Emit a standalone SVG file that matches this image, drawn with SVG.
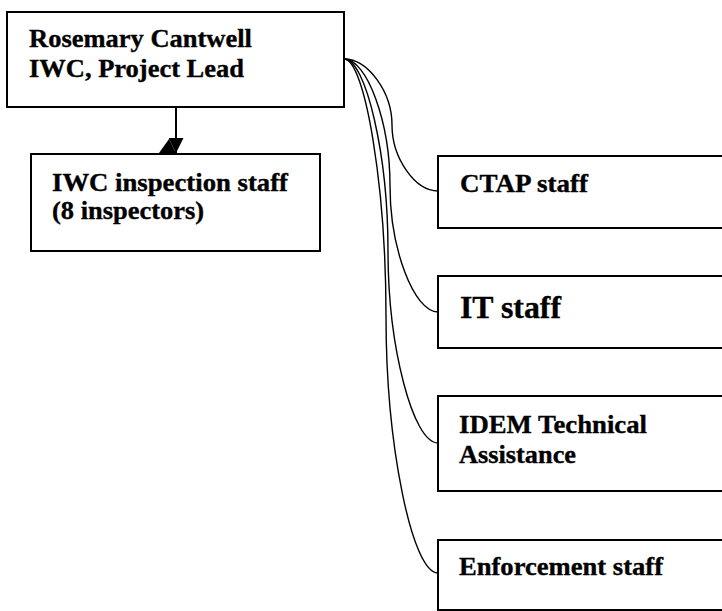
<svg xmlns="http://www.w3.org/2000/svg" width="722" height="611" viewBox="0 0 722 611">
  <style>
    .box { fill: #ffffff; stroke: #000000; stroke-width: 2; }
    .lbl { font-family: "Liberation Serif", "Times New Roman", serif; font-weight: bold; font-size: 25px; fill: #000000; stroke: #000000; stroke-width: 0.35; }
    .big { font-size: 32px; }
    .conn { fill: none; stroke: #000000; stroke-width: 1.4; }
  </style>
  <defs>
    <marker id="arrow" markerWidth="15" markerHeight="15" refX="15" refY="7.5" orient="auto" markerUnits="userSpaceOnUse" viewBox="0 0 15 15">
      <path d="M0,0 L15,7.5 L0,15 Z" fill="#000000"/>
    </marker>
  </defs>
  <rect width="722" height="611" fill="#ffffff"/>

  <g id="connectors">
    <path class="conn" style="stroke-width:2" d="M176,107 L176,153" marker-end="url(#arrow)"/>
    <path d="M159,153 L169,139 L176,153 Z" fill="#000000"/>
    <path class="conn" d="M344,59 C368,59 392,92 392,125 C392,158 415,191 438,191"/>
    <path class="conn" d="M344,59 C367,59 390,122 390,185.5 C390,249 414,312 438,312"/>
    <path class="conn" d="M344,59 C366,59 388,155 388,251 C388,347 413,443 438,443"/>
    <path class="conn" d="M344,59 C365,59 386,187 386,316 C386,445 412,573 438,573"/>
  </g>

  <g id="node-lead">
    <rect class="box" x="7" y="12" width="337" height="95"/>
    <text class="lbl" x="29" y="47" textLength="223" lengthAdjust="spacingAndGlyphs">Rosemary Cantwell</text>
    <text class="lbl" x="29" y="77" textLength="215" lengthAdjust="spacingAndGlyphs">IWC, Project Lead</text>
  </g>

  <g id="node-iwc">
    <rect class="box" x="31" y="154" width="289" height="97"/>
    <text class="lbl" x="52" y="191" textLength="236" lengthAdjust="spacingAndGlyphs">IWC inspection staff</text>
    <text class="lbl" x="52" y="219" textLength="152" lengthAdjust="spacingAndGlyphs">(8 inspectors)</text>
  </g>

  <g id="node-ctap">
    <rect class="box" x="438" y="156" width="300" height="72"/>
    <text class="lbl" x="460" y="192" textLength="128" lengthAdjust="spacingAndGlyphs">CTAP staff</text>
  </g>

  <g id="node-it">
    <rect class="box" x="438" y="276" width="300" height="72"/>
    <text class="lbl big" x="460" y="318" textLength="101" lengthAdjust="spacingAndGlyphs">IT staff</text>
  </g>

  <g id="node-idem">
    <rect class="box" x="438" y="396" width="300" height="95"/>
    <text class="lbl" x="459" y="433" textLength="188" lengthAdjust="spacingAndGlyphs">IDEM Technical</text>
    <text class="lbl" x="459" y="463" textLength="117" lengthAdjust="spacingAndGlyphs">Assistance</text>
  </g>

  <g id="node-enforcement">
    <rect class="box" x="438" y="540" width="300" height="70"/>
    <text class="lbl" x="459" y="575" textLength="204" lengthAdjust="spacingAndGlyphs">Enforcement staff</text>
  </g>
</svg>
